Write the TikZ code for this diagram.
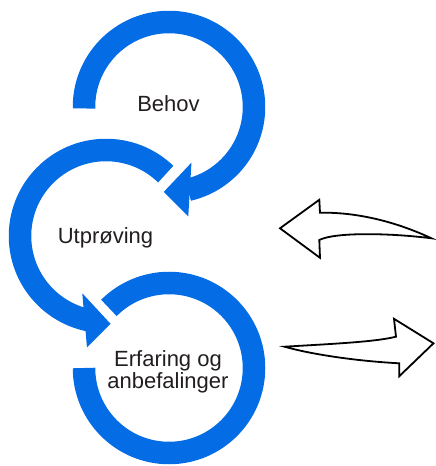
\documentclass[tikz,border=0pt]{standalone}
\usepackage{fontspec}
\setmainfont{Liberation Sans}
\usetikzlibrary{calc}
\definecolor{loopblue}{RGB}{4,108,228}
\definecolor{labelgray}{RGB}{34,30,32}
\tikzset{
  loopband/.style={draw=loopblue, line width=22.5pt, line cap=butt},
  loophead/.style={fill=loopblue},
  looptext/.style={text=labelgray, font=\fontsize{22pt}{22pt}\selectfont, align=center},
  outlinearrow/.style={draw=black, line width=1.8pt, fill=white, line join=miter}
}
\begin{document}
\begin{tikzpicture}[x=1pt, y=1pt]

    \useasboundingbox (0,0) rectangle (436,466);

    % Centres of the three loops
    \coordinate (behovC) at (169,359);
    \coordinate (utproC) at (106,230);
    \coordinate (erfarC) at (169,98);

    % Loop 1: Behov (clockwise, head into loop 2)
    \draw[loopband] (behovC) ++(181:85pt) arc[start angle=181, end angle=-77, radius=85pt];
    \fill[loophead] ($(behovC)+(-68:60)$) -- ($(behovC)+(-80:111)$) -- ($(behovC)+(-93.5:85)$) -- cycle;

    % Loop 2: Utproving (counter-clockwise, head into loop 3)
    \draw[loopband] (utproC) ++(46:86pt) arc[start angle=46, end angle=259, radius=86pt];
    \fill[loophead] ($(utproC)+(247.5:62)$) -- ($(utproC)+(260.3:113)$) -- ($(utproC)+(273:88)$) -- cycle;

    % Loop 3: Erfaring (no head)
    \draw[loopband] (erfarC) ++(180:85pt) arc[start angle=180, end angle=495, radius=85pt];

    % Labels
    \node[looptext, anchor=base] (behov) at (168.5,354) {Behov};
    \node[looptext, anchor=base] (utproving) at (105.5,222) {Utprøving};
    \node[looptext] (erfaring) at (168,94) {Erfaring og\\anbefalinger};

    % Outline arrow pointing back (left)
    \draw[outlinearrow] (280,237.7) -- (319.3,266.2) -- (320,253.3)
        .. controls (365,254) and (405,240) .. (431.5,227.7)
        .. controls (390,233) and (335,234) .. (319.3,226)
        -- (320,208.2) -- cycle;

    % Outline arrow pointing on (right)
    \draw[outlinearrow] (284.5,119.3)
        .. controls (330,122) and (375,124) .. (396,129.3)
        -- (394,147.2) -- (433.5,122.7) -- (399.3,89.8) -- (399.3,102.7)
        .. controls (355,105) and (310,112) .. cycle;

\end{tikzpicture}
\end{document}
